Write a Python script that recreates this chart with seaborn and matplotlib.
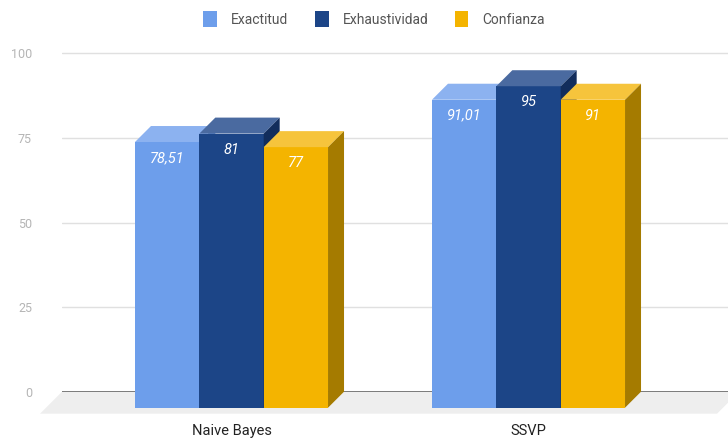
import pandas as pd
import matplotlib
matplotlib.use('Agg')
import matplotlib.pyplot as plt
import seaborn as sns
from matplotlib.patches import Polygon, Patch

# datos del grafico
modelos = ['Naive Bayes', 'SSVP']
metricas = ['Exactitud', 'Exhaustividad', 'Confianza']
exactitud = [78.51, 91.01]
exhaustividad = [81, 95]
confianza = [77, 91]
ticks_y = [0, 25, 50, 75, 100]

col_frente = ['#6d9eeb', '#1c4587', '#f4b400']
col_arriba = ['#8cb2f0', '#4a6aa0', '#f6c43c']
col_lado = ['#5a86cf', '#122d5c', '#a57b00']

sns.set_theme(style='white')
plt.rcParams['font.family'] = ['Roboto', 'DejaVu Sans']

df = pd.DataFrame({
    'Modelo': modelos * 3,
    'Metrica': [m for m in metricas for _ in modelos],
    'Valor': exactitud + exhaustividad + confianza,
})

W, H = 728, 441
fig = plt.figure(figsize=(W / 100, H / 100), dpi=100)
esc = 3.384       # px por unidad en y
prof = 16         # profundidad 3D en px
base_atras = 49.3  # linea 0 del plano de atras (px desde abajo)
base_frente = base_atras - prof
px_cat = 297      # px entre categorias
centro0 = 231.5   # px del centro de la primera categoria

# plano de atras: rejilla y etiquetas del eje y
axb = fig.add_axes([62 / W, base_atras / H, (W - 62) / W, (H - base_atras) / H])
axb.set_xlim(0, W - 62)
axb.set_ylim(0, (H - base_atras) / esc)
for v in ticks_y[1:]:
    axb.axhline(v, color='#e0e0e0', lw=1, zorder=1)
piso = Polygon([(0, 0), (-22, -22 / esc), (655, -22 / esc), (677, 0)],
               closed=True, facecolor='#eeeeee', edgecolor='none', clip_on=False, zorder=0.5)
axb.add_patch(piso)
axb.axhline(0, color='#7a7a7a', lw=1.4, zorder=2)
axb.set_yticks(ticks_y)
axb.set_yticklabels([str(t) for t in ticks_y])
axb.set_xticks([])
axb.tick_params(axis='y', length=0, pad=21.6, labelsize=9, labelcolor='#b5b5b5')
for s in axb.spines.values():
    s.set_visible(False)
axb.set_zorder(0)

# plano de frente: barras
ax = fig.add_axes([0, base_frente / H, 1, (H - base_frente) / H])
ax.set_zorder(1)
ax.patch.set_visible(False)
sns.barplot(data=df, x='Modelo', y='Valor', hue='Metrica', hue_order=metricas,
            palette=col_frente, width=0.65, saturation=1, linewidth=0,
            legend=False, ax=ax)
ax.set_xlim(-centro0 / px_cat, (W - centro0) / px_cat)
ax.set_ylim(0, (H - base_frente) / esc)

dx = prof * (ax.get_xlim()[1] - ax.get_xlim()[0]) / W
dy = prof / esc

barras = []
for k, cont in enumerate(ax.containers):
    for p in cont:
        barras.append((p, k))
barras.sort(key=lambda b: b[0].get_x())

for i, (p, k) in enumerate(barras):
    x0, w, h = p.get_x(), p.get_width(), p.get_height()
    z = 3 + i
    p.set_zorder(z)
    arriba = Polygon([(x0, h), (x0 + w, h), (x0 + w + dx, h + dy), (x0 + dx, h + dy)],
                     closed=True, facecolor=col_arriba[k], edgecolor='none', zorder=z + 0.5)
    lado = Polygon([(x0 + w, 0), (x0 + w + dx, dy), (x0 + w + dx, h + dy), (x0 + w, h)],
                   closed=True, facecolor=col_lado[k], edgecolor='none', zorder=z + 0.5)
    ax.add_patch(arriba)
    ax.add_patch(lado)
    ax.annotate(f'{h:g}'.replace('.', ','), (x0 + w / 2, h), xytext=(0, -16),
                textcoords='offset pixels', ha='center', va='center', color='white',
                style='italic', fontsize=10.5, zorder=z + 0.6)

ax.set_xticks(range(len(modelos)))
ax.set_xticklabels(modelos)
ax.set_yticks([])
ax.set_xlabel('')
ax.set_ylabel('')
ax.tick_params(axis='x', length=0, pad=12, labelsize=10.5, labelcolor='#222222')
for s in ax.spines.values():
    s.set_visible(False)

handles = [Patch(facecolor=c, edgecolor='none', label=m) for c, m in zip(col_frente, metricas)]
fig.legend(handles=handles, loc='center', bbox_to_anchor=(374 / W, 1 - 19 / H), ncol=3,
           frameon=False, fontsize=10, handlelength=1.0, handleheight=1.3,
           columnspacing=1.9, handletextpad=1.0, labelcolor='#555555')

fig.savefig('out.png', dpi=100)
